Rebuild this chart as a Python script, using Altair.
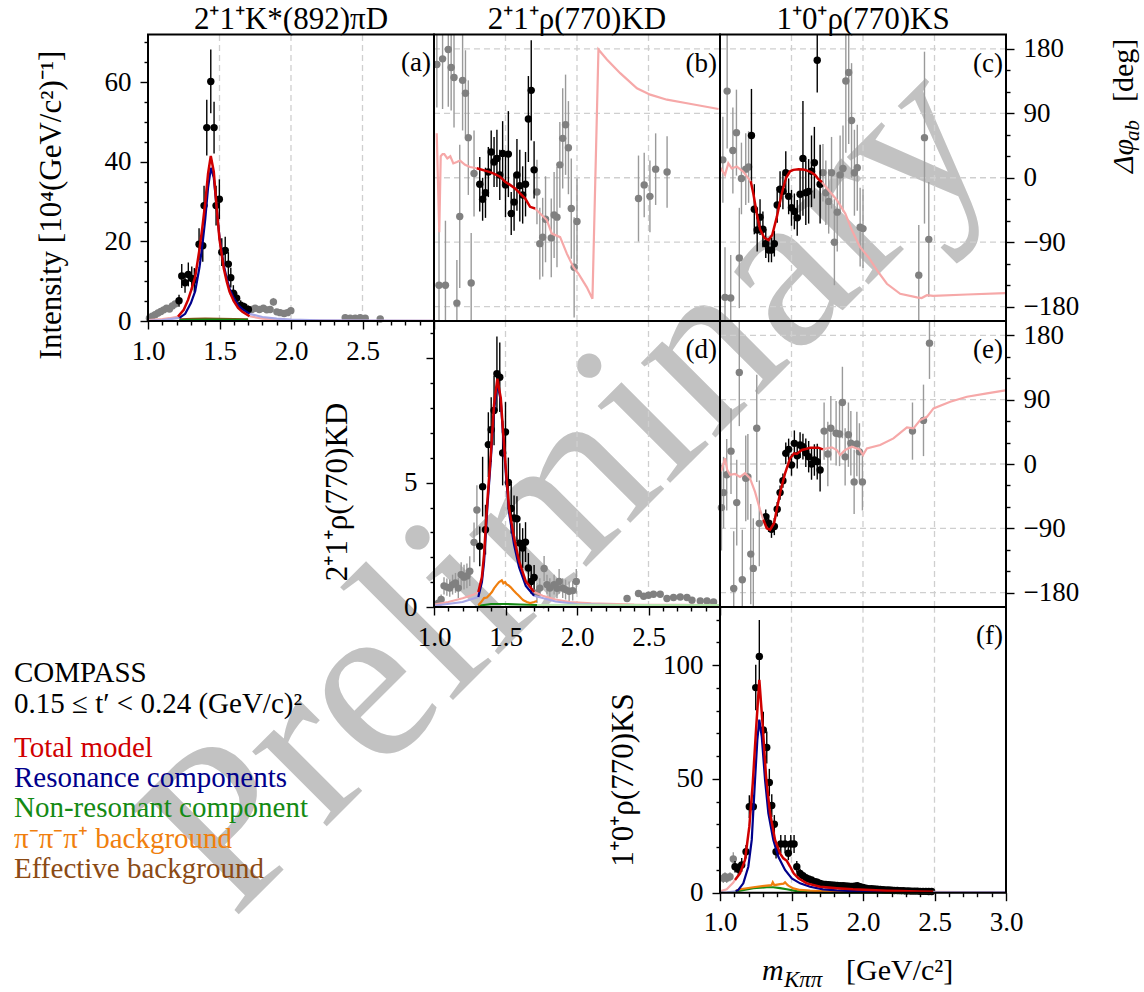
import altair as alt
import pandas as pd

FONT = "Liberation Serif"
RED, BLUE, GREEN, ORANGE, BROWN = "#d00000", "#00008b", "#148a14", "#f07f0e", "#8b4a14"
PINK, LBLUE, LGREEN = "#f6a8a8", "#a6a6e6", "#b4e6ac"
GRAYPT, GRAYBAR, GRIDC = "#808080", "#9a9a9a", "#cfcfcf"

# ---------------- tick / grid values ----------------
X_TICKS = [1.0, 1.1, 1.2, 1.3, 1.4, 1.5, 1.6, 1.7, 1.8, 1.9, 2.0, 2.1, 2.2, 2.3, 2.4, 2.5, 2.6, 2.7, 2.8, 2.9, 3.0]
GRID_M = [1.5, 2.0, 2.5]
PHASE_TICKS = [-180, -150, -120, -90, -60, -30, 0, 30, 60, 90, 120, 150, 180]
GRID_PHASE = [-180, -90, 0, 90, 180]
A_TICKS = [0, 5, 10, 15, 20, 25, 30, 35, 40, 45, 50, 55, 60, 65, 70]
D_TICKS = [0, 1, 2, 3, 4, 5, 6, 7, 8, 9, 10, 11]
F_TICKS = [0, 10, 20, 30, 40, 50, 60, 70, 80, 90, 100, 110, 120]

# ---------------- (a) 2+1+ K*(892) pi D intensity ----------------
A_FIT_M = [1.217, 1.236, 1.259, 1.282, 1.306, 1.324, 1.357, 1.383, 1.392, 1.411, 1.439, 1.462, 1.476, 1.499, 1.516, 1.540, 1.562, 1.579, 1.597, 1.620, 1.648, 1.672, 1.702]
A_FIT_V = [5.1, 11.3, 9.6, 11.7, 10.7, 10.3, 19.3, 18.9, 29.0, 48.6, 60.2, 48.6, 29.0, 30.6, 17.3, 17.7, 14.3, 10.9, 7.0, 5.7, 4.0, 3.6, 2.9]
A_FIT_E = [1.5, 3.0, 2.5, 3.0, 3.0, 3.0, 4.0, 4.0, 5.0, 7.0, 8.0, 6.5, 5.0, 5.0, 3.5, 3.5, 3.0, 2.5, 2.0, 1.5, 1.2, 1.0, 1.0]
A_OUT_M = [1.01, 1.03, 1.05, 1.07, 1.09, 1.11, 1.13, 1.15, 1.17, 1.19, 1.726, 1.749, 1.779, 1.807, 1.831, 1.854, 1.877, 1.901, 1.924, 1.952, 1.975, 1.999, 2.379, 2.414, 2.449, 2.484, 2.519, 2.624]
A_OUT_V = [0.7, 1.2, 1.6, 2.0, 2.4, 2.8, 3.2, 3.0, 3.8, 4.3, 2.9, 3.2, 2.9, 3.2, 2.8, 2.9, 4.8, 2.3, 2.1, 1.9, 2.1, 2.6, 0.8, 0.7, 0.7, 0.8, 0.7, 0.5]
A_OUT_E = [0.3, 0.4, 0.4, 0.5, 0.5, 0.6, 0.6, 0.6, 0.7, 0.8, 0.8, 0.8, 0.8, 0.8, 0.8, 0.8, 1.0, 0.7, 0.7, 0.7, 0.7, 0.8, 0.3, 0.3, 0.3, 0.3, 0.3, 0.3]
A_TOT_M = [1.21, 1.25, 1.28, 1.30, 1.33, 1.36, 1.38, 1.40, 1.42, 1.439, 1.46, 1.48, 1.50, 1.53, 1.55, 1.57, 1.60, 1.63, 1.66, 1.71]
A_TOT_V = [1.1, 2.8, 5.3, 7.5, 11.1, 18.0, 23.5, 29.6, 37.0, 41.5, 37.5, 28.5, 20.5, 13.2, 10.0, 7.4, 5.0, 3.3, 2.3, 1.2]
A_TOT_LO_M = [1.00, 1.05, 1.10, 1.15, 1.21]
A_TOT_LO_V = [0.2, 0.35, 0.5, 0.7, 1.1]
A_TOT_HI_M = [1.71, 1.80, 1.90, 2.00, 2.20, 2.50, 3.00]
A_TOT_HI_V = [1.2, 0.6, 0.35, 0.25, 0.12, 0.06, 0.02]
A_RES_M = [1.22, 1.26, 1.30, 1.33, 1.36, 1.38, 1.40, 1.42, 1.44, 1.46, 1.48, 1.50, 1.53, 1.55, 1.57, 1.60, 1.63, 1.66, 1.71]
A_RES_V = [0.8, 1.8, 4.5, 7.5, 13.5, 19.0, 25.5, 33.5, 38.5, 36.0, 28.5, 21.0, 14.0, 10.8, 8.2, 5.8, 4.0, 3.0, 1.8]
A_RES_LO_M = [1.00, 1.10, 1.22]
A_RES_LO_V = [0.05, 0.2, 0.8]
A_RES_HI_M = [1.71, 1.80, 1.90, 2.00, 2.20, 2.50, 3.00]
A_RES_HI_V = [1.8, 1.0, 0.6, 0.35, 0.15, 0.08, 0.03]
A_NON_M = [1.22, 1.32, 1.45, 1.58, 1.70]
A_NON_V = [0.2, 0.3, 0.35, 0.3, 0.3]
A_EFF_M = [1.22, 1.32, 1.40, 1.50, 1.60, 1.70]
A_EFF_V = [0.4, 0.55, 0.6, 0.55, 0.5, 0.4]

# ---------------- (b) phase 2+1+ rho K D ----------------
B_FIT_M = [1.32, 1.34, 1.36, 1.38, 1.40, 1.42, 1.44, 1.46, 1.48, 1.50, 1.52, 1.54, 1.56, 1.58, 1.60, 1.62, 1.64, 1.66, 1.68, 1.70]
B_FIT_V = [-9, -30, -21, 8, 36, 22, 27, 4, 34, -10, 33, -50, -34, 4, -11, -24, -9, 82, 122, 11]
B_FIT_E = [38, 30, 35, 35, 30, 35, 40, 35, 45, 45, 60, 30, 40, 50, 50, 40, 45, 60, 70, 40]
B_OUT_M = [1.02, 1.035, 1.06, 1.08, 1.10, 1.12, 1.14, 1.16, 1.18, 1.20, 1.22, 1.24, 1.26, 1.28,
           1.72, 1.74, 1.76, 1.78, 1.82, 1.84, 1.86, 1.88, 1.90, 1.92, 1.94, 1.96, 1.98, 2.00,
           2.43, 2.47, 2.51, 2.55, 2.63]
B_OUT_V = [158, -150, 166, -150, 179, 154, 140, -175, -54, 136, 118, 56, -147, 6,
           -20, -92, -83, -58, -84, -52, -55, 18, 55, 74, 42, -43, -125, -61,
           -29, -10, -26, 12, 8]
B_OUT_E = [60, 80, 70, 90, 80, 60, 70, 60, 100, 70, 60, 80, 70, 60,
           45, 50, 55, 60, 55, 60, 70, 60, 70, 70, 65, 70, 70, 60,
           60, 45, 50, 50, 50]
B_TOT_M = [1.299, 1.38, 1.415, 1.462, 1.497, 1.532, 1.567, 1.602, 1.637, 1.672, 1.707]
B_TOT_V = [13.3, 8.5, 6.2, 1.5, -5.5, -10, -14.8, -21.8, -28.8, -40.6, -43]
B_EXT_LO_M = [1.019, 1.037, 1.047, 1.06, 1.072, 1.093, 1.114, 1.135, 1.16, 1.182, 1.217, 1.252, 1.299]
B_EXT_LO_V = [62, -76, 30, 33, 33, 27, 30, 20, 22, 24, 18, 15, 13.3]
B_EXT_HI_M = [1.707, 1.742, 1.789, 1.824, 1.882, 1.929, 1.975, 2.01, 2.069, 2.108, 2.15, 2.209, 2.302, 2.419, 2.512, 2.629, 2.769, 2.99]
B_EXT_HI_V = [-43, -50, -59, -78, -83, -106, -125, -134, -153, -169, 179, 165, 146, 125, 116, 109, 104, 96]

# ---------------- (c) phase 1+0+ rho K S ----------------
C_FIT_M = [1.22, 1.24, 1.26, 1.28, 1.30, 1.32, 1.34, 1.36, 1.38, 1.40, 1.42, 1.44, 1.46, 1.48, 1.50, 1.52, 1.54, 1.56, 1.58, 1.60, 1.62, 1.64, 1.66, 1.68, 1.70]
C_FIT_V = [59, -44, -73, -55, -72, -92, -101, -101, -92, -38, -16, -19, 7, -26, -42, -47, -56, -23, 27, -21, -19, 9, 21, 164, -9]
C_FIT_E = [65, 35, 30, 25, 25, 20, 17, 17, 18, 25, 25, 25, 30, 25, 25, 25, 25, 35, 80, 45, 45, 50, 50, 45, 55]
C_OUT_M = [1.02, 1.035, 1.05, 1.075, 1.09, 1.115, 1.135, 1.15, 1.18, 1.20,
           1.72, 1.74, 1.76, 1.78, 1.80, 1.82, 1.84, 1.86, 1.88, 1.90, 1.92, 1.94, 1.96, 1.98, 2.00,
           2.39, 2.43, 2.46]
C_OUT_V = [25, -167, 121, -168, 38, 63, -112, -1, 12, 15,
           7, -21, -33, 7, -90, -48, 4, 13, 135, 147, 80, 7, 14, -69, -71,
           -136, 56, -86]
C_OUT_E = [60, 70, 80, 60, 60, 60, 70, 50, 50, 50,
           40, 45, 45, 50, 60, 55, 55, 60, 100, 100, 80, 60, 60, 55, 55,
           70, 120, 80]
C_TOT_M = [1.215, 1.233, 1.257, 1.28, 1.31, 1.34, 1.365, 1.397, 1.432, 1.462, 1.49, 1.513, 1.55, 1.583, 1.61, 1.635, 1.665, 1.688, 1.712]
C_TOT_V = [-5, -22, -50, -72, -84, -87, -80, -55, -22, 0, 9, 11, 12, 11.5, 10, 8, 4, -2, -6]
C_EXT_LO_M = [1.005, 1.012, 1.035, 1.058, 1.082, 1.117, 1.163, 1.215]
C_EXT_LO_V = [14, 11, 4, 20, 13, 15.6, 8.5, -5]
C_EXT_HI_M = [1.712, 1.758, 1.817, 1.876, 1.922, 1.98, 2.038, 2.097, 2.167, 2.26, 2.377, 2.41, 2.447, 2.49, 2.727, 2.995]
C_EXT_HI_V = [-6, -17, -31, -50, -73, -97, -111, -129, -148, -162, -167, -168, -164, -165, -163, -161]

# ---------------- (d) 2+1+ rho K D intensity ----------------
D_FIT_M = [1.32, 1.34, 1.36, 1.38, 1.40, 1.42, 1.44, 1.46, 1.48, 1.50, 1.52, 1.54, 1.56, 1.58, 1.60, 1.62, 1.64, 1.66, 1.68, 1.70]
D_FIT_V = [2.44, 4.84, 3.11, 6.53, 7.13, 7.90, 9.38, 9.24, 6.19, 7.04, 5.01, 3.96, 3.58, 3.55, 2.57, 2.37, 2.61, 1.57, 1.03, 1.19]
D_FIT_E = [0.8, 1.2, 1.0, 1.3, 1.3, 1.4, 1.5, 1.4, 1.3, 1.2, 1.0, 1.0, 0.9, 0.9, 0.8, 0.8, 0.8, 0.6, 0.5, 0.5]
D_OUT_M = [1.03, 1.05, 1.07, 1.09, 1.11, 1.13, 1.15, 1.17, 1.19, 1.21, 1.23, 1.25, 1.28, 1.30,
           1.72, 1.74, 1.77, 1.79, 1.81, 1.84, 1.86, 1.875, 1.90, 1.92, 1.945, 1.97, 1.995,
           2.35, 2.43, 2.466, 2.50, 2.535, 2.582, 2.629, 2.675, 2.722, 2.769, 2.804, 2.862, 2.909, 2.955]
D_OUT_V = [0.15, 0.3, 0.85, 0.8, 0.76, 0.9, 0.97, 0.76, 1.3, 1.2, 1.25, 1.44, 2.6, 3.9,
           0.56, 0.76, 1.55, 0.9, 0.76, 0.9, 0.75, 1.03, 0.76, 0.7, 0.63, 0.66, 1.03,
           0.34, 0.54, 0.43, 0.47, 0.51, 0.51, 0.34, 0.38, 0.4, 0.38, 0.27, 0.24, 0.24, 0.2]
D_OUT_E = [0.1, 0.2, 0.35, 0.35, 0.35, 0.4, 0.4, 0.4, 0.5, 0.5, 0.5, 0.6, 0.8, 1.0,
           0.4, 0.4, 0.5, 0.4, 0.4, 0.4, 0.4, 0.5, 0.4, 0.4, 0.4, 0.4, 0.5,
           0.1, 0.1, 0.1, 0.1, 0.1, 0.1, 0.1, 0.1, 0.1, 0.1, 0.1, 0.1, 0.1, 0.1]
D_TOT_M = [1.31, 1.335, 1.35, 1.373, 1.397, 1.42, 1.443, 1.467, 1.483, 1.502, 1.525, 1.56, 1.595, 1.642, 1.70]
D_TOT_V = [0.6, 1.2, 2.1, 4.25, 6.13, 8.14, 9.18, 8.4, 7.06, 5.59, 3.98, 2.77, 1.84, 1.03, 0.6]
D_RES_V = [0.4, 1.0, 1.8, 4.0, 5.9, 7.9, 9.0, 8.3, 6.9, 5.4, 3.8, 2.5, 1.6, 0.85, 0.45]
D_TOT_LO_M = [1.0, 1.1, 1.2, 1.28, 1.31]
D_TOT_LO_V = [0.1, 0.2, 0.35, 0.5, 0.6]
D_TOT_HI_M = [1.70, 1.76, 1.85, 1.95, 2.1, 2.4, 3.0]
D_TOT_HI_V = [0.6, 0.45, 0.3, 0.2, 0.15, 0.1, 0.08]
D_RES_LO_M = [1.0, 1.2, 1.31]
D_RES_LO_V = [0.05, 0.2, 0.4]
D_RES_HI_M = [1.70, 1.85, 2.0, 2.5, 3.0]
D_RES_HI_V = [0.45, 0.22, 0.12, 0.05, 0.02]
D_BKG_M = [1.31, 1.33, 1.35, 1.37, 1.39, 1.405, 1.42, 1.44, 1.455, 1.474, 1.485, 1.497, 1.51, 1.52, 1.535, 1.555, 1.575, 1.59, 1.61, 1.625, 1.65, 1.672, 1.70, 1.72]
D_BKG_V = [0.07, 0.2, 0.36, 0.38, 0.5, 0.6, 0.75, 0.9, 1.0, 1.07, 0.95, 1.0, 0.9, 0.88, 0.8, 0.67, 0.55, 0.47, 0.35, 0.27, 0.2, 0.16, 0.2, 0.24]
D_NON_M = [1.31, 1.40, 1.50, 1.60, 1.72]
D_NON_V = [0.05, 0.12, 0.12, 0.1, 0.08]
D_NON_HI_M = [1.72, 2.0, 2.5, 3.0]
D_NON_HI_V = [0.08, 0.09, 0.08, 0.08]

# ---------------- (e) phase 1+0+ rho K S vs 2+1+ rho K D ----------------
E_FIT_M = [1.32, 1.34, 1.36, 1.38, 1.40, 1.42, 1.44, 1.46, 1.48, 1.50, 1.52, 1.54, 1.56, 1.58, 1.60, 1.62, 1.64, 1.66, 1.68, 1.70]
E_FIT_V = [-73.6, -82.9, -91.3, -87.5, -63.3, -40, -23.3, 14.9, 20.5, -1.4, 28.9, 11.6, 26.5, 24.2, 15.8, 10.2, 0, 5.6, 3.3, -8.4]
E_FIT_E = [10, 12, 12, 12, 10, 10, 10, 15, 15, 15, 18, 18, 18, 18, 20, 22, 22, 22, 25, 30]
E_OUT_M = [1.01, 1.025, 1.047, 1.077, 1.096, 1.117, 1.135, 1.156, 1.18, 1.195, 1.215, 1.233, 1.257, 1.275,
           1.728, 1.754, 1.775, 1.812, 1.836, 1.856, 1.875, 1.898, 1.915, 1.938, 1.957, 1.975, 1.996,
           2.346, 2.423, 2.465]
E_OUT_V = [-61, -40, -15, 18, -174, -54, 128, -162, -20, -18, -126, -146, 50, -83,
           46, 14, 50, 43, 42, 86, 10, 41, 29, -25, 28, 17, -25,
           46, 61, 169]
E_OUT_E = [60, 50, 50, 60, 80, 60, 75, 70, 60, 60, 70, 70, 75, 60,
           40, 45, 45, 45, 45, 50, 40, 45, 45, 45, 45, 40, 40,
           40, 50, 50]
E_TOT_M = [1.303, 1.327, 1.35, 1.378, 1.401, 1.425, 1.455, 1.49, 1.518, 1.537, 1.572, 1.60, 1.63, 1.688, 1.719]
E_TOT_V = [-78, -89.8, -92, -82.9, -59.6, -36.3, -13, 8, 14.9, 14, 19.6, 21, 22.8, 22.8, 20.5]
E_EXT_LO_M = [1.005, 1.012, 1.035, 1.05, 1.07, 1.105, 1.14, 1.175, 1.21, 1.245, 1.28, 1.303]
E_EXT_LO_V = [-10, -8, 8, -8, -15, -14, -18, -13, -20, -39, -64, -78]
E_EXT_HI_M = [1.719, 1.747, 1.782, 1.817, 1.84, 1.875, 1.922, 1.975, 2.0, 2.027, 2.12, 2.213, 2.307, 2.353, 2.40, 2.447, 2.493, 2.61, 2.727, 2.867, 2.995]
E_EXT_HI_V = [20.5, 21.9, 23.3, 19.6, 12.6, 19.6, 24.2, 20.5, 12.6, 21.9, 26.5, 35.8, 51.2, 49.8, 61.4, 66, 77.8, 87, 94, 98.7, 103]

# ---------------- (f) 1+0+ rho K S intensity ----------------
F_FIT_M = [1.105, 1.128, 1.152, 1.182, 1.205, 1.233, 1.25, 1.275, 1.303, 1.327,
           1.345, 1.362, 1.38, 1.392, 1.425, 1.455, 1.478, 1.495, 1.518, 1.537,
           1.56, 1.58, 1.60, 1.62, 1.64, 1.665, 1.68, 1.70,
           1.72, 1.74, 1.76, 1.78, 1.80, 1.82, 1.84, 1.86, 1.88, 1.90,
           1.92, 1.94, 1.96, 1.98, 2.00, 2.02, 2.04, 2.06, 2.08, 2.10,
           2.12, 2.14, 2.16, 2.18, 2.20, 2.22, 2.24, 2.26, 2.28, 2.30,
           2.32, 2.34, 2.36, 2.38, 2.40, 2.42, 2.44, 2.46, 2.48]
F_FIT_V = [11.4, 10.3, 12.2, 18.0, 37.8, 37.8, 90.1, 103.8, 71.5, 63.8,
           48.4, 38.3, 30.1, 18.0, 21.4, 21.4, 17.3, 21.4, 21.4, 11.4,
           8.5, 7.5, 6.6, 6.0, 5.6, 4.8, 4.6, 4.1,
           3.7, 3.6, 3.5, 3.4, 3.3, 3.2, 3.1, 3.1, 3.0, 2.9,
           2.7, 2.9, 3.1, 2.6, 2.3, 2.0, 1.8, 1.7, 1.6, 1.5,
           1.4, 1.3, 1.2, 1.2, 1.1, 1.0, 1.0, 0.9, 0.9, 0.8,
           0.8, 0.7, 0.7, 0.7, 0.6, 0.6, 0.6, 0.5, 0.5]
F_FIT_E = [2.5, 2.5, 3, 3, 5, 5, 10, 16, 8, 7,
           6, 5, 4, 3, 4, 4, 3, 4, 4, 2.5,
           2, 1.5, 1.2, 1, 1, 1, 0.9, 0.8,
           0.7, 0.7, 0.7, 0.7, 0.7, 0.7, 0.7, 0.7, 0.7, 0.7,
           0.6, 0.6, 0.6, 0.6, 0.6, 0.6, 0.6, 0.6, 0.6, 0.6,
           0.4, 0.4, 0.4, 0.4, 0.4, 0.4, 0.4, 0.4, 0.4, 0.4,
           0.3, 0.3, 0.3, 0.3, 0.3, 0.3, 0.3, 0.3, 0.3]
F_OUT_M = [1.023, 1.035, 1.047, 1.07, 1.093]
F_OUT_V = [6.3, 7.0, 6.3, 7.0, 14.8]
F_OUT_E = [2, 2, 2, 2, 3]
F_TOT_M = [1.105, 1.14, 1.175, 1.205, 1.229, 1.252, 1.275, 1.299, 1.322, 1.35, 1.385, 1.42, 1.443, 1.467, 1.49, 1.515, 1.548, 1.607, 1.70, 1.817, 1.93, 2.05, 2.167, 2.26, 2.38, 2.49]
F_TOT_V = [5.6, 8.5, 14.4, 29, 48, 71.5, 93.5, 73, 51, 35, 23.2, 17.3, 15.1, 14.0, 11.5, 8.5, 6.3, 4.1, 2.6, 2.0, 1.5, 1.2, 0.9, 0.7, 0.5, 0.4]
F_TOT_LO_M = [1.0, 1.047, 1.093, 1.105]
F_TOT_LO_V = [0.6, 1.5, 4.5, 5.6]
F_TOT_HI_M = [2.49, 2.7, 3.0]
F_TOT_HI_V = [0.4, 0.3, 0.2]
F_RES_M = [1.11, 1.128, 1.163, 1.198, 1.222, 1.245, 1.261, 1.275, 1.292, 1.315, 1.338, 1.373, 1.408, 1.455, 1.502, 1.56, 1.63, 1.72, 1.817, 1.93, 2.1, 2.3, 2.49]
F_RES_V = [0.6, 1.2, 4.1, 11.4, 23.2, 49.6, 67, 76, 68.6, 49.6, 35, 23.2, 15.8, 10, 6.3, 4.1, 2.6, 1.5, 1.0, 0.7, 0.45, 0.3, 0.2]
F_RES_LO_M = [1.0, 1.05, 1.11]
F_RES_LO_V = [0.05, 0.2, 0.6]
F_RES_HI_M = [2.49, 3.0]
F_RES_HI_V = [0.2, 0.1]
F_BKG_M = [1.11, 1.14, 1.233, 1.327, 1.36, 1.369, 1.38, 1.42, 1.445, 1.455, 1.47, 1.478, 1.513, 1.56, 1.63, 1.70, 1.80, 2.0, 2.2, 2.49]
F_BKG_V = [0.8, 1.5, 2.4, 3.1, 3.3, 4.6, 3.3, 3.8, 4.0, 4.6, 3.5, 3.1, 1.9, 1.2, 0.9, 0.7, 0.5, 0.4, 0.3, 0.2]
F_NON_M = [1.11, 1.14, 1.233, 1.327, 1.373, 1.42, 1.467, 1.537, 1.607, 1.70, 2.49]
F_NON_V = [0.3, 0.9, 2.0, 2.4, 2.4, 2.0, 1.5, 0.7, 0.3, 0.1, 0.05]

# ---------------- layout ----------------
W, H = 1144, 992
BOX = {"a": (148, 34.5, 434, 321), "b": (434, 34.5, 720, 321), "c": (720, 34.5, 1006, 321),
       "d": (434, 321, 720, 607), "e": (720, 321, 1006, 607), "f": (720, 607, 1006, 892.7)}
YDOM = {"a": [0, 72], "b": [-200, 200], "c": [-200, 200], "d": [0, 11.5], "e": [-200, 200], "f": [0, 125.5]}
ONE = pd.DataFrame({"k": [0]})


def sc(p):
    L, T, R, B = BOX[p]
    xs = alt.Scale(domain=[1.0, 3.0], range=[L, R], nice=False, zero=False, clamp=True)
    ys = alt.Scale(domain=YDOM[p], range=[B, T], nice=False, zero=False, clamp=True)
    return xs, ys


AXC = dict(domain=False, grid=False, labelFont=FONT, labelFontSize=27, labelColor="black",
           tickColor="black", tickWidth=1.4, title=None, labelOverlap=False, labelFlush=False, zindex=2)


def major_test(step):
    return f"abs(datum.value / {step} - round(datum.value / {step})) < 0.001"


def x_axis(offset, last):
    mj = major_test(0.5)
    show = mj if last else mj + " && datum.value < 2.95"
    return alt.Axis(orient="bottom", offset=offset, values=X_TICKS, format=".1f",
                    labelExpr=f"({show}) ? datum.label : ''",
                    tickSize={"condition": {"test": mj, "value": 8}, "value": 4},
                    labelPadding=9, **AXC)


def y_left(offset, ticks, step, hide=None):
    mj = major_test(step)
    show = mj if hide is None else mj + f" && datum.value != {hide}"
    return alt.Axis(orient="left", offset=offset, values=ticks,
                    labelExpr=f"({show}) ? datum.label : ''",
                    tickSize={"condition": {"test": mj, "value": 8}, "value": 4},
                    labelPadding=9, **AXC)


def y_right():
    mj = major_test(90)
    return alt.Axis(orient="right", offset=BOX["c"][2] - W, values=PHASE_TICKS,
                    labelExpr=f"({mj}) ? datum.label : ''",
                    tickSize={"condition": {"test": mj, "value": 8}, "value": 4},
                    labelPadding=9, **AXC)


def frame(p, xaxis=None, yaxis=None):
    xs, ys = sc(p)
    lo, hi = YDOM[p]
    return alt.Chart(ONE).mark_rect(fill="white", fillOpacity=0, stroke="black", strokeWidth=2).encode(
        x=alt.XDatum(1.0, scale=xs, axis=xaxis), x2=alt.X2Datum(3.0),
        y=alt.YDatum(lo, scale=ys, axis=yaxis), y2=alt.Y2Datum(hi))


def grid(p, phase):
    xs, ys = sc(p)
    lo, hi = YDOM[p]
    out = [alt.Chart(pd.DataFrame({"g": GRID_M})).mark_rule(color=GRIDC, strokeDash=[6, 4], strokeWidth=1.3).encode(
        x=alt.X("g:Q", scale=xs, axis=None), y=alt.YDatum(lo, scale=ys, axis=None), y2=alt.Y2Datum(hi))]
    if phase:
        out.append(alt.Chart(pd.DataFrame({"g": GRID_PHASE})).mark_rule(color=GRIDC, strokeDash=[6, 4], strokeWidth=1.3).encode(
            y=alt.Y("g:Q", scale=ys, axis=None), x=alt.XDatum(1.0, scale=xs, axis=None), x2=alt.X2Datum(3.0)))
    return out


def curve(p, m, v, color, width=2.2):
    xs, ys = sc(p)
    return alt.Chart(pd.DataFrame({"m": m, "v": v})).mark_line(color=color, strokeWidth=width).encode(
        x=alt.X("m:Q", scale=xs, axis=None), y=alt.Y("v:Q", scale=ys, axis=None))


def pts(p, m, v, e, fill, bar):
    xs, ys = sc(p)
    base = alt.Chart(pd.DataFrame({"m": m, "v": v, "e": e})).transform_calculate(
        lo="datum.v - datum.e", hi="datum.v + datum.e")
    return [base.mark_rule(color=bar, strokeWidth=1.4).encode(
                x=alt.X("m:Q", scale=xs, axis=None), y=alt.Y("lo:Q", scale=ys, axis=None), y2="hi:Q"),
            base.mark_circle(color=fill, size=55, opacity=1).encode(
                x=alt.X("m:Q", scale=xs, axis=None), y=alt.Y("v:Q", scale=ys, axis=None))]


def label(t, x, y, size=28, color="black", angle=0, align="left", baseline="alphabetic", italic=False):
    kw = dict(text=t, font=FONT, fontSize=size, color=color, align=align, baseline=baseline)
    if angle:
        kw["angle"] = angle
    if italic:
        kw["fontStyle"] = "italic"
    return alt.Chart(ONE).mark_text(**kw).encode(x=alt.value(x), y=alt.value(y))


layers = [label("Preliminary", 233, 920, size=230, color="#c2c2c2", angle=315)]

# legend / info text
for t, y, c in [("COMPASS", 682, "black"), ("0.15 ≤ t′ < 0.24 (GeV/c)²", 713, "black"),
                ("Total model", 757, RED), ("Resonance components", 787, BLUE),
                ("Non-resonant component", 817, GREEN), ("π⁻π⁻π⁺ background", 848, ORANGE),
                ("Effective background", 878, BROWN)]:
    layers.append(label(t, 14, y, size=29, color=c))

# (a)
layers += grid("a", False)
layers += pts("a", A_OUT_M, A_OUT_V, A_OUT_E, GRAYPT, GRAYBAR)
layers += pts("a", A_FIT_M, A_FIT_V, A_FIT_E, "black", "black")
layers += [curve("a", A_TOT_LO_M, A_TOT_LO_V, PINK), curve("a", A_TOT_HI_M, A_TOT_HI_V, PINK),
           curve("a", A_RES_LO_M, A_RES_LO_V, LBLUE), curve("a", A_RES_HI_M, A_RES_HI_V, LBLUE),
           curve("a", A_EFF_M, A_EFF_V, BROWN), curve("a", A_NON_M, A_NON_V, GREEN),
           curve("a", A_RES_M, A_RES_V, BLUE), curve("a", A_TOT_M, A_TOT_V, RED, 2.5)]
layers.append(frame("a", x_axis(BOX["a"][3] - H, False), y_left(-BOX["a"][0], A_TICKS, 20)))

# (b)
layers += grid("b", True)
layers += pts("b", B_OUT_M, B_OUT_V, B_OUT_E, GRAYPT, GRAYBAR)
layers += pts("b", B_FIT_M, B_FIT_V, B_FIT_E, "black", "black")
layers += [curve("b", B_EXT_LO_M, B_EXT_LO_V, PINK), curve("b", B_EXT_HI_M, B_EXT_HI_V, PINK),
           curve("b", B_TOT_M, B_TOT_V, RED, 2.5)]
layers.append(frame("b"))

# (c)
layers += grid("c", True)
layers += pts("c", C_OUT_M, C_OUT_V, C_OUT_E, GRAYPT, GRAYBAR)
layers += pts("c", C_FIT_M, C_FIT_V, C_FIT_E, "black", "black")
layers += [curve("c", C_EXT_LO_M, C_EXT_LO_V, PINK), curve("c", C_EXT_HI_M, C_EXT_HI_V, PINK),
           curve("c", C_TOT_M, C_TOT_V, RED, 2.5)]
layers.append(frame("c", None, y_right()))

# (d)
layers += grid("d", False)
layers += pts("d", D_OUT_M, D_OUT_V, D_OUT_E, GRAYPT, GRAYBAR)
layers += pts("d", D_FIT_M, D_FIT_V, D_FIT_E, "black", "black")
layers += [curve("d", D_TOT_LO_M, D_TOT_LO_V, PINK), curve("d", D_TOT_HI_M, D_TOT_HI_V, PINK),
           curve("d", D_RES_LO_M, D_RES_LO_V, LBLUE), curve("d", D_RES_HI_M, D_RES_HI_V, LBLUE),
           curve("d", D_NON_HI_M, D_NON_HI_V, LGREEN),
           curve("d", D_NON_M, D_NON_V, GREEN), curve("d", D_BKG_M, D_BKG_V, ORANGE),
           curve("d", D_TOT_M, D_RES_V, BLUE), curve("d", D_TOT_M, D_TOT_V, RED, 2.5)]
layers.append(frame("d", x_axis(BOX["d"][3] - H, False), y_left(-BOX["d"][0], D_TICKS, 5, hide=10)))

# (e)
layers += grid("e", True)
layers += pts("e", E_OUT_M, E_OUT_V, E_OUT_E, GRAYPT, GRAYBAR)
layers += pts("e", E_FIT_M, E_FIT_V, E_FIT_E, "black", "black")
layers += [curve("e", E_EXT_LO_M, E_EXT_LO_V, PINK), curve("e", E_EXT_HI_M, E_EXT_HI_V, PINK),
           curve("e", E_TOT_M, E_TOT_V, RED, 2.5)]
layers.append(frame("e", None, y_right()))

# (f)
layers += grid("f", False)
layers += pts("f", F_OUT_M, F_OUT_V, F_OUT_E, GRAYPT, GRAYBAR)
layers += pts("f", F_FIT_M, F_FIT_V, F_FIT_E, "black", "black")
layers += [curve("f", F_TOT_LO_M, F_TOT_LO_V, PINK), curve("f", F_TOT_HI_M, F_TOT_HI_V, PINK),
           curve("f", F_RES_LO_M, F_RES_LO_V, LBLUE), curve("f", F_RES_HI_M, F_RES_HI_V, LBLUE),
           curve("f", F_NON_M, F_NON_V, GREEN), curve("f", F_BKG_M, F_BKG_V, ORANGE),
           curve("f", F_RES_M, F_RES_V, BLUE), curve("f", F_TOT_M, F_TOT_V, RED, 2.5)]
layers.append(frame("f", x_axis(BOX["f"][3] - H, True), y_left(-BOX["f"][0], F_TICKS, 50)))

# panel letters
for t, x, y in [("(a)", 431, 71), ("(b)", 717, 72), ("(c)", 1003, 72),
                ("(d)", 717, 358), ("(e)", 1003, 358), ("(f)", 1003, 644)]:
    layers.append(label(t, x, y, size=27, align="right"))

# column titles
for t, x in [("2⁺1⁺K*(892)πD", 291), ("2⁺1⁺ρ(770)KD", 577), ("1⁺0⁺ρ(770)KS", 863)]:
    layers.append(label(t, x, 29, size=31, align="center"))

# axis titles
layers += [
    label("Intensity [10⁴(GeV/c²)⁻¹]", 52, 205, size=31, angle=270, align="center", baseline="middle"),
    label("2⁺1⁺ρ(770)KD", 338, 492, size=31, angle=270, align="center", baseline="middle"),
    label("1⁺0⁺ρ(770)KS", 624, 780, size=31, angle=270, align="center", baseline="middle"),
    label("Δφ", 1133, 173, size=30, angle=270, italic=True),
    label("ab", 1139, 141, size=21, angle=270, italic=True),
    label("[deg]", 1133, 102, size=30, angle=270),
    label("m", 762, 980, size=30, italic=True),
    label("Kππ", 784, 987, size=23, italic=True),
    label("[GeV/c²]", 846, 980, size=30),
]

chart = alt.layer(*layers).resolve_scale(x="independent", y="independent").properties(
    width=W, height=H, padding=0, autosize="none"
).configure(font=FONT).configure_view(stroke=None)

chart.save("out.html", embed_options={"renderer": "svg", "actions": False})
